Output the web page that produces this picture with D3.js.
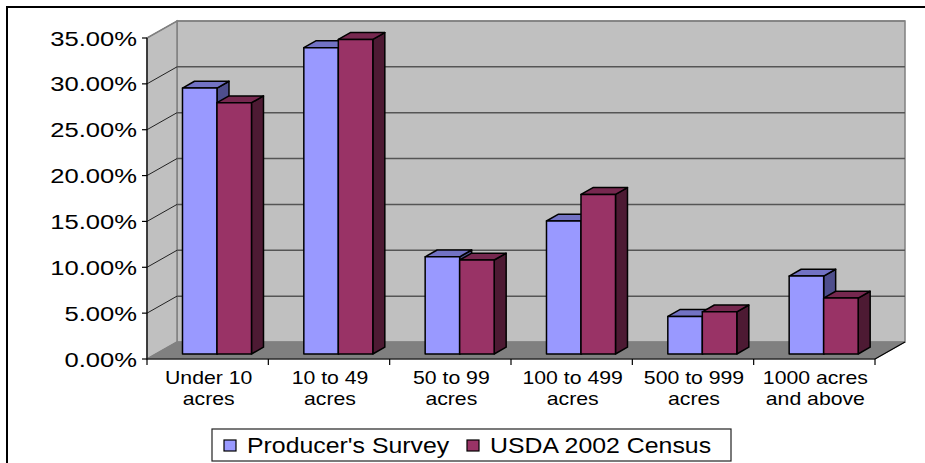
<!DOCTYPE html>
<html>
<head>
<meta charset="utf-8">
<script src="https://cdn.jsdelivr.net/npm/d3@7"></script>
<style>
  html, body { margin: 0; padding: 0; background: #fff; }
  svg { display: block; }
  text { font-family: "Liberation Sans", Arial, sans-serif; fill: #000; }
</style>
</head>
<body>
<svg id="chart" width="925" height="463"></svg>
<script>
// ---- data ----
const categories = ["Under 10 acres", "10 to 49 acres", "50 to 99 acres", "100 to 499 acres", "500 to 999 acres", "1000 acres and above"];
const categoryLines = [["Under 10", "acres"], ["10 to 49", "acres"], ["50 to 99", "acres"], ["100 to 499", "acres"], ["500 to 999", "acres"], ["1000 acres", "and above"]];
const producersSurvey = [29.0, 33.4, 10.6, 14.5, 4.1, 8.5];
const usdaCensus = [27.4, 34.3, 10.25, 17.4, 4.6, 6.1];
const seriesNames = ["Producer's Survey", "USDA 2002 Census"];
const yTicks = [0, 5, 10, 15, 20, 25, 30, 35];

// ---- layout ----
const svg = d3.select("#chart");
const DX = 30, DY = -17;          // full depth offset
const x = d3.scaleBand().domain(categories).range([147, 875]).paddingInner(0).paddingOuter(0);
const y = d3.scaleLinear().domain([0, 35]).range([359, 38]);
const x0 = 147, x1 = 875, yBase = y(0), yTop = y(35);

const colors = [
  {front: "#9999ff", top: "#7272c4", side: "#4e4e8c"},
  {front: "#993366", top: "#76284f", side: "#4d1a33"}
];

// outer border (right & bottom cropped)
svg.append("path").attr("d", `M7,470 L7,7 L930,7`).attr("fill", "none").attr("stroke", "#000").attr("stroke-width", 2);

// back wall
svg.append("rect").attr("x", x0 + DX).attr("y", yTop + DY).attr("width", x1 - x0).attr("height", yBase - yTop)
  .attr("fill", "#c0c0c0").attr("stroke", "#808080").attr("stroke-width", 1.5);
// side wall
svg.append("polygon").attr("points", [[x0, yTop], [x0 + DX, yTop + DY], [x0 + DX, yBase + DY], [x0, yBase]].join(" "))
  .attr("fill", "#c0c0c0").attr("stroke", "#808080").attr("stroke-width", 1.5);
// floor
svg.append("polygon").attr("points", [[x0, yBase], [x0 + DX, yBase + DY], [x1 + DX, yBase + DY], [x1, yBase]].join(" "))
  .attr("fill", "#808080").attr("stroke", "#808080").attr("stroke-width", 1);

// gridlines on back wall and side wall
yTicks.forEach(t => {
  if (t === 0) return;
  const yy = y(t);
  svg.append("line").attr("x1", x0 + DX).attr("x2", x1 + DX).attr("y1", yy + DY).attr("y2", yy + DY)
    .attr("stroke", t === 35 ? "#808080" : "#555").attr("stroke-width", 1.5);
  svg.append("line").attr("x1", x0).attr("x2", x0 + DX).attr("y1", yy).attr("y2", yy + DY)
    .attr("stroke", t === 35 ? "#808080" : "#222").attr("stroke-width", 1);
});

// bars
const w = 34.5;
const d0 = 5 / 17, d1 = d0 + 0.4;
function proj(px, py, d) { return [px + DX * d, py + DY * d]; }
categories.forEach((c, i) => {
  const cx = x(c) + x.bandwidth() / 2 + 0.5;
  [producersSurvey[i], usdaCensus[i]].forEach((v, s) => {
    const L = s === 0 ? cx - w : cx, R = L + w;
    const T = y(v), B = y(0);
    const col = colors[s];
    const g = svg.append("g").attr("stroke", "#000").attr("stroke-width", 1.5).attr("stroke-linejoin", "round");
    const f = [proj(L, T, d0), proj(R, T, d0), proj(R, B, d0), proj(L, B, d0)];
    const tp = [proj(L, T, d0), proj(L, T, d1), proj(R, T, d1), proj(R, T, d0)];
    const sd = [proj(R, T, d0), proj(R, T, d1), proj(R, B, d1), proj(R, B, d0)];
    g.append("polygon").attr("points", sd.join(" ")).attr("fill", col.side);
    g.append("polygon").attr("points", tp.join(" ")).attr("fill", col.top);
    g.append("polygon").attr("points", f.join(" ")).attr("fill", col.front);
  });
});

// axes lines
svg.append("line").attr("x1", x0).attr("x2", x0).attr("y1", yTop).attr("y2", yBase).attr("stroke", "#000").attr("stroke-width", 1.2);
svg.append("line").attr("x1", x0).attr("x2", x1).attr("y1", yBase).attr("y2", yBase).attr("stroke", "#000").attr("stroke-width", 1.2);
svg.append("line").attr("x1", x1).attr("x2", x1 + DX).attr("y1", yBase).attr("y2", yBase + DY).attr("stroke", "#000").attr("stroke-width", 1.2);

// y ticks & labels
yTicks.forEach(t => {
  const yy = y(t);
  svg.append("line").attr("x1", x0 - 5).attr("x2", x0).attr("y1", yy).attr("y2", yy).attr("stroke", "#000").attr("stroke-width", 1.2);
  svg.append("text").attr("transform", `translate(137,${yy + 7.5}) scale(1.28,1)`)
    .attr("text-anchor", "end").attr("font-size", 20).text(t.toFixed(2) + "%");
});

// x ticks at category boundaries
const bounds = categories.map(c => x(c)).concat([x1]);
bounds.forEach(bx => {
  svg.append("line").attr("x1", bx).attr("x2", bx).attr("y1", yBase).attr("y2", yBase + 6).attr("stroke", "#000").attr("stroke-width", 1.2);
});

// category labels
categories.forEach((c, i) => {
  const cx = x(c) + x.bandwidth() / 2 + 1;
  categoryLines[i].forEach((ln, k) => {
    svg.append("text").attr("transform", `translate(${cx},${384 + k * 20.5}) scale(1.18,1)`)
      .attr("text-anchor", "middle").attr("font-size", 18).text(ln);
  });
});

// legend
svg.append("rect").attr("x", 212).attr("y", 429).attr("width", 519).attr("height", 32)
  .attr("fill", "#fff").attr("stroke", "#222").attr("stroke-width", 1.2);
const legendItems = [{sx: 224, tx: 247}, {sx: 467, tx: 490}];
legendItems.forEach((it, s) => {
  svg.append("rect").attr("x", it.sx).attr("y", 440).attr("width", 12).attr("height", 11)
    .attr("fill", colors[s].front).attr("stroke", "#000").attr("stroke-width", 1.2);
  svg.append("text").attr("transform", `translate(${it.tx},452.5) scale(1.13,1)`)
    .attr("font-size", 22).text(seriesNames[s]);
});
</script>
</body>
</html>
